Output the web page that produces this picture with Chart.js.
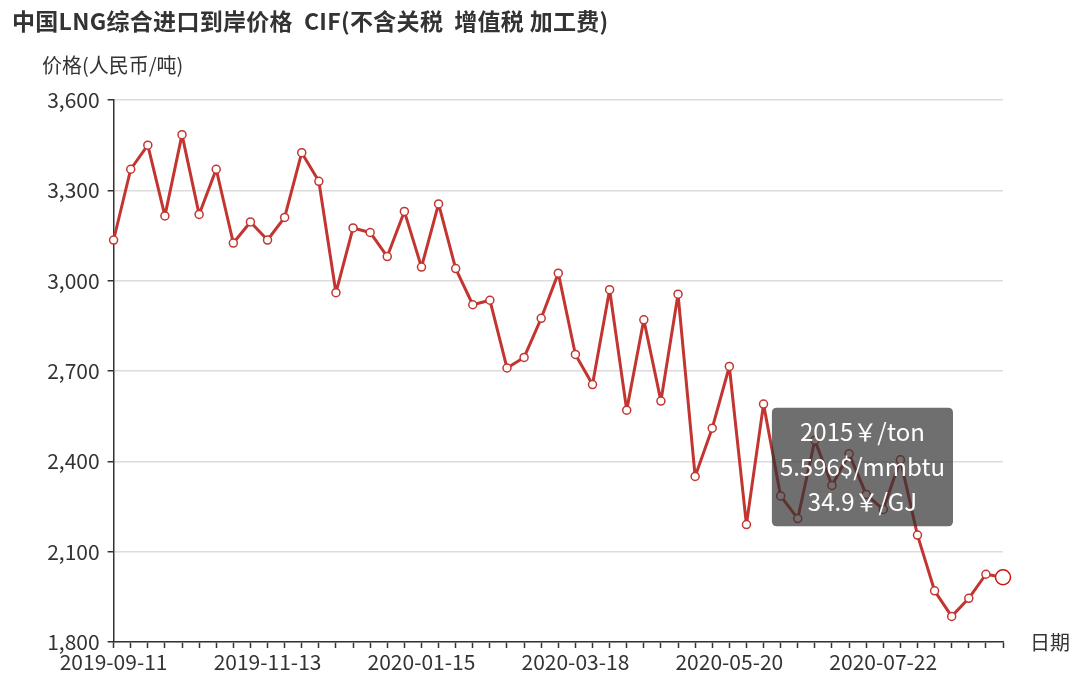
<!DOCTYPE html>
<html>
<head>
<meta charset="utf-8">
<script src="https://cdn.jsdelivr.net/npm/chart.js@4/dist/chart.umd.min.js"></script>
<style>
  html, body { margin: 0; padding: 0; background: #fff; }
  #wrap { width: 1080px; height: 678px; }
</style>
</head>
<body>
<div id="wrap"><canvas id="lngChart" width="1080" height="678"></canvas></div>
<script>
// weekly dates
const dates = [
  '2019-09-11','2019-09-18','2019-09-25','2019-10-02','2019-10-09','2019-10-16','2019-10-23','2019-10-30','2019-11-06',
  '2019-11-13','2019-11-20','2019-11-27','2019-12-04','2019-12-11','2019-12-18','2019-12-25','2020-01-01','2020-01-08',
  '2020-01-15','2020-01-22','2020-01-29','2020-02-05','2020-02-12','2020-02-19','2020-02-26','2020-03-04','2020-03-11',
  '2020-03-18','2020-03-25','2020-04-01','2020-04-08','2020-04-15','2020-04-22','2020-04-29','2020-05-06','2020-05-13',
  '2020-05-20','2020-05-27','2020-06-03','2020-06-10','2020-06-17','2020-06-24','2020-07-01','2020-07-08','2020-07-15',
  '2020-07-22','2020-07-29','2020-08-05','2020-08-12','2020-08-19','2020-08-26','2020-09-02','2020-09-09'
];
// 元/吨
const prices = [
  3135, 3370, 3450, 3215, 3485, 3220, 3370, 3125, 3195,
  3135, 3210, 3425, 3330, 2960, 3175, 3160, 3080, 3230,
  3045, 3255, 3040, 2920, 2935, 2710, 2745, 2875, 3025,
  2755, 2655, 2970, 2570, 2870, 2600, 2955, 2350, 2510,
  2715, 2190, 2590, 2285, 2210, 2470, 2320, 2425, 2290,
  2240, 2405, 2155, 1970, 1885, 1945, 2025, 2015
];
const yTicks = [1800, 2100, 2400, 2700, 3000, 3300, 3600];
const labelEvery = 9;

// tooltip lines of the highlighted (last) week
const tipUsd = ['5.596'];
const tipGJ = ['34.9'];

const FONT = '"Noto Sans CJK SC", "Noto Sans", sans-serif';
const RED = '#c23531';
const last = prices.length - 1;

Chart.Tooltip.positioners.upLeft = function (items) {
  if (!items.length) return false;
  const el = items[0].element;
  return { x: el.x - 55, y: el.y - 51 };
};

const textPlugin = {
  id: 'texts',
  afterDraw(chart) {
    const ctx = chart.ctx;
    const area = chart.chartArea;
    ctx.save();
    ctx.fillStyle = '#333';
    ctx.textBaseline = 'middle';
    ctx.textAlign = 'left';
    ctx.font = 'bold 23px ' + FONT;
    ctx.letterSpacing = '0.3px';
    ctx.fillText('中国LNG综合进口到岸价格  CIF(不含关税  增值税 加工费)', 12, 21);
    ctx.letterSpacing = '0px';
    ctx.font = '20px ' + FONT;
    ctx.fillText('价格(人民币/吨)', 42, 65);
    ctx.fillText('日期', area.right + 27, area.bottom);
    ctx.restore();
  }
};

const chart = new Chart(document.getElementById('lngChart'), {
  type: 'line',
  data: {
    labels: dates,
    datasets: [{
      data: prices,
      borderColor: RED,
      borderWidth: 3,
      borderJoinStyle: 'round',
      backgroundColor: '#fff',
      pointBackgroundColor: '#fff',
      pointBorderColor: RED,
      pointBorderWidth: 1.5,
      pointRadius: 4,
      pointHoverRadius: 7.5,
      pointHoverBorderWidth: 1.5,
      pointHoverBackgroundColor: '#fff',
      tension: 0
    }]
  },
  options: {
    responsive: false,
    animation: false,
    events: [],
    layout: { padding: { top: 100, right: 77, left: 0, bottom: 0 } },
    plugins: {
      legend: { display: false },
      title: { display: false },
      tooltip: {
        enabled: true,
        position: 'upLeft',
        xAlign: 'right',
        yAlign: 'bottom',
        caretSize: 0,
        caretPadding: 0,
        cornerRadius: 5,
        backgroundColor: 'rgba(50,50,50,0.7)',
        displayColors: false,
        padding: { left: 8, right: 8, top: 10, bottom: 10 },
        bodyAlign: 'center',
        bodyColor: '#fff',
        bodyFont: { family: FONT, size: 24, lineHeight: 1.2 },
        bodySpacing: 6,
        callbacks: {
          title: () => '',
          label: (c) => [c.parsed.y + '￥/ton', tipUsd[0] + '$/mmbtu', tipGJ[0] + '￥/GJ']
        }
      }
    },
    scales: {
      x: {
        offset: false,
        grid: { display: true, drawOnChartArea: false, drawTicks: true, tickLength: 6, tickColor: '#333', tickWidth: 1.5 },
        border: { color: '#333', width: 1.5 },
        ticks: {
          autoSkip: false,
          maxRotation: 0,
          padding: 1,
          color: '#333',
          font: { family: FONT, size: 21 },
          callback: (v, i) => (i % labelEvery === 0 ? dates[i] : '')
        },
        afterFit: (s) => { s.height = 36; }
      },
      y: {
        min: yTicks[0],
        max: yTicks[yTicks.length - 1],
        afterBuildTicks: (s) => { s.ticks = yTicks.map(v => ({ value: v })); },
        grid: { color: '#dcdcdc', lineWidth: 1.5, tickLength: 6, tickColor: '#333', tickWidth: 1.5 },
        border: { color: '#333', width: 1.5 },
        ticks: {
          padding: 8,
          color: '#333',
          font: { family: FONT, size: 21 },
          callback: (v) => v.toLocaleString('en-US')
        },
        afterFit: (s) => { s.width = 113.6; }
      }
    }
  },
  plugins: [textPlugin]
});

const active = [{ datasetIndex: 0, index: last }];
chart.setActiveElements(active);
chart.tooltip.setActiveElements(active, { x: 0, y: 0 });
chart.update();
</script>
</body>
</html>
